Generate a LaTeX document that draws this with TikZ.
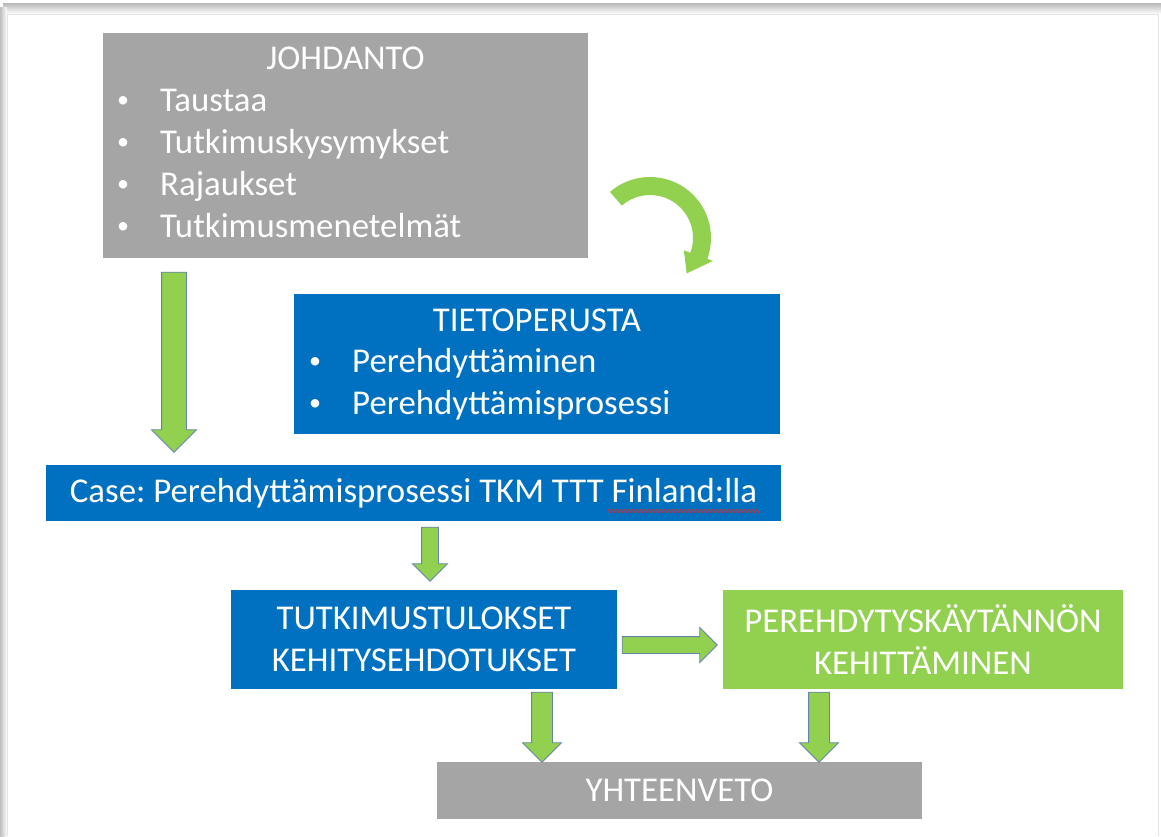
\documentclass[tikz,border=0pt]{standalone}
\usepackage{fontspec}
\setmainfont{Carlito}
\frenchspacing
\definecolor{BoxGray}{RGB}{165,165,165}
\definecolor{BoxBlue}{RGB}{0,112,192}
\definecolor{BoxGreen}{RGB}{146,208,80}
\definecolor{ArrowEdge}{RGB}{100,132,170}
\definecolor{SpellRed}{RGB}{215,45,45}
\definecolor{FrameShadow}{RGB}{190,190,190}
\usetikzlibrary{positioning, shapes.arrows, calc, decorations.pathmorphing}
\tikzstyle{box} = [rectangle, inner sep=0pt, text=white, align=center, font=\fontsize{34.8}{42}\selectfont]
\tikzstyle{graybox} = [box, fill=BoxGray]
\tikzstyle{bluebox} = [box, fill=BoxBlue]
\tikzstyle{greenbox} = [box, fill=BoxGreen]
\tikzstyle{boxtext} = [inner sep=0pt, text=white, font=\fontsize{34.8}{42}\selectfont]
\tikzstyle{listitem} = [boxtext, anchor=base west]
\tikzstyle{fatarrow} = [single arrow, inner xsep=0pt, fill=BoxGreen, draw=ArrowEdge, line width=0.8pt]
\tikzstyle{curvearrow} = [fill=BoxGreen]
\newcommand{\bulletmark}{\makebox[43pt][l]{\raisebox{4pt}{\fontsize{24}{24}\selectfont\textbullet}}}

\begin{document}
\begin{tikzpicture}[x=1pt, y=1pt]
    \useasboundingbox (0,0) rectangle (1161,836);
    % frame with its shadow
    \fill[white] (0,0) rectangle (1161,836);
    \shade[top color=FrameShadow, bottom color=white] (3,832) rectangle (1161,822);
    \shade[left color=FrameShadow, right color=white] (0,0) rectangle (7,828);
    \draw[white!90!black, line width=0.6pt] (7,0) -- (7,822) -- (1158,822) -- (1158,0);

    % Johdanto
    \node[graybox, minimum width=485pt, minimum height=225pt] (johdanto) at (345.5,690.5) {};
    \node[boxtext, anchor=base] (johdantotitle) at (345.5,766) {JOHDANTO};
    \foreach \txt [count=\i] in {Taustaa, Tutkimuskysymykset, Rajaukset, Tutkimusmenetelmät}
        \node[listitem] (johdanto-\i) at (117,766-42*\i) {\bulletmark\txt};

    % Tietoperusta
    \node[bluebox, minimum width=486pt, minimum height=140pt] (tieto) at (537,472) {};
    \node[boxtext, anchor=base] (tietotitle) at (537,504) {TIETOPERUSTA};
    \foreach \txt [count=\i] in {Perehdyttäminen, Perehdyttämisprosessi}
        \node[listitem] (tieto-\i) at (309,505-42*\i) {\bulletmark\txt};

    % Case
    \node[bluebox, minimum width=735pt, minimum height=56pt] (casebox) at (413.5,343)
        {Case: Perehdyttämisprosessi TKM TTT Finland:lla};
    \draw[SpellRed, line width=0.9pt, decorate, decoration={snake, amplitude=1.4pt, segment length=4pt}]
        (607,325) -- (760,325);

    % results and development
    \node[bluebox, minimum width=386pt, minimum height=99pt] (tulokset) at (424,196.5)
        {TUTKIMUSTULOKSET\\KEHITYSEHDOTUKSET};
    \node[greenbox, minimum width=400pt, minimum height=99pt] (kehitys) at (923,196.5)
        {PEREHDYTYSKÄYTÄNNÖN\\KEHITTÄMINEN};
    \node[graybox, minimum width=485pt, minimum height=57pt] (yhteenveto) at (679.5,45.5) {YHTEENVETO};

    % block arrows
    \node[fatarrow, rotate=-90, minimum height=180pt, inner ysep=12pt, single arrow head extend=10pt] (arrowintro) at (174,480) {};
    \node[fatarrow, rotate=-90, minimum height=54pt, inner ysep=8pt, single arrow head extend=9pt] (arrowcase) at (430,286) {};
    \node[fatarrow, minimum height=95pt, inner ysep=8pt, single arrow head extend=9pt] (arrowdev) at (665.5,191) {};
    \node[fatarrow, rotate=-90, minimum height=70pt, inner ysep=10pt, single arrow head extend=9pt] (arrowresult) at (542,114) {};
    \node[fatarrow, rotate=-90, minimum height=70pt, inner ysep=10pt, single arrow head extend=9pt] (arrowpractice) at (819,114) {};

    % curved arrow
    \fill[curvearrow, shift={(650,598)}] (131:61) arc[start angle=131, end angle=-20, radius=61pt]
        -- (-20:67) -- (-44:51) -- (-20:36) -- (-20:43)
        arc[start angle=-20, end angle=131, radius=43pt] -- cycle;
\end{tikzpicture}
\end{document}
